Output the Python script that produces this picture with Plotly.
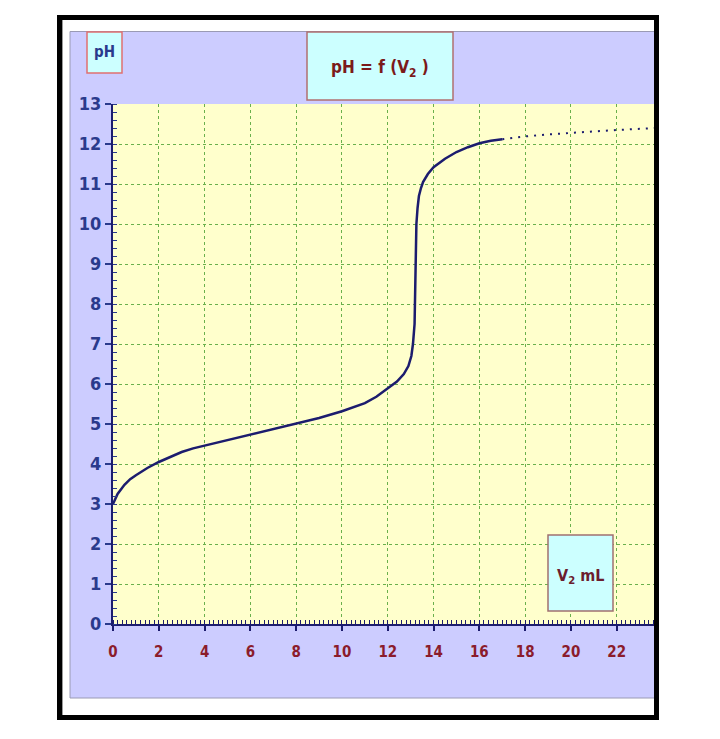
import plotly.graph_objects as go

# titration curve pH = f(V2)
v2 = [0, 0.2, 0.5, 0.75, 1, 1.5, 2, 2.5, 3, 3.5, 4, 5, 6, 7, 8, 9, 10, 11,
      11.5, 12, 12.4, 12.7, 12.9, 13.03, 13.1, 13.17, 13.22, 13.25, 13.3,
      13.36, 13.45, 13.54, 13.75, 14, 14.5, 15, 15.5, 16, 16.5, 17]
ph = [3.0, 3.25, 3.48, 3.62, 3.72, 3.9, 4.05, 4.18, 4.3, 4.39, 4.46, 4.6,
      4.73, 4.87, 5.01, 5.15, 5.32, 5.52, 5.68, 5.88, 6.06, 6.25, 6.45, 6.7,
      7.0, 7.5, 9.0, 10.0, 10.4, 10.7, 10.9, 11.05, 11.25, 11.42, 11.63, 11.8,
      11.92, 12.02, 12.08, 12.12]

# sparse dotted tail
v2_tail = [17, 18, 19, 20, 21, 22, 23, 23.7]
ph_tail = [12.12, 12.19, 12.24, 12.28, 12.32, 12.35, 12.38, 12.4]

x_ticks = [0, 2, 4, 6, 8, 10, 12, 14, 16, 18, 20, 22]
y_ticks = list(range(0, 14))

FONT = "DejaVu Sans Condensed, Liberation Sans Narrow, sans-serif"
NAVY = "#2a3a8c"
MAROON = "#8b1c2c"
CURVE = "#1c1c6e"
LAVENDER = "#ccccff"
YELLOW = "#ffffcc"
CYAN = "#ccffff"
GRID = "#6ab04c"

# plot area in pixels
L, R, T, B = 113, 655, 104, 624
W, H = 720, 739


def px(x):
    return (x - L) / (R - L)


def py(y):
    return (B - y) / (B - T)


def rect(x0, y0, x1, y1, **kw):
    return dict(type="rect", xref="paper", yref="paper",
                x0=px(x0), x1=px(x1), y0=py(y1), y1=py(y0), **kw)


def label(text, x, y, size, color):
    return dict(text=text, x=px(x), y=py(y), xref="paper", yref="paper",
                xanchor="center", yanchor="middle", showarrow=False,
                font=dict(family=FONT, size=size, color=color, weight="bold"))


fig = go.Figure()
fig.add_trace(go.Scatter(x=v2, y=ph, mode="lines",
                         line=dict(color=CURVE, width=2.5), hoverinfo="skip"))
fig.add_trace(go.Scatter(x=v2_tail, y=ph_tail, mode="lines",
                         line=dict(color=CURVE, width=2, dash="2px,6px"),
                         hoverinfo="skip"))

shapes = [
    # lavender panel and yellow plot area (both under the grid)
    rect(70, 31.5, 655, 698, fillcolor=LAVENDER,
         line=dict(color="#9a9ab4", width=1), layer="below"),
    rect(L, T, R, B, fillcolor=YELLOW, line=dict(width=0), layer="below"),
    # outer black frame
    rect(59.5, 17.5, 656.5, 717.5, line=dict(color="black", width=5),
         layer="above"),
    dict(type="line", xref="paper", yref="paper", x0=px(62.5), x1=px(62.5),
         y0=py(20), y1=py(715), line=dict(color="#999999", width=1)),
    # label boxes
    rect(307, 32, 453, 100, fillcolor=CYAN, line=dict(color="#b07070", width=1.5)),
    rect(87, 32, 122, 73, fillcolor=CYAN, line=dict(color="#e07070", width=1.5)),
    rect(548, 535, 613, 611, fillcolor=CYAN, line=dict(color="#a07070", width=1.5)),
]

annotations = [
    label("pH = f (V<sub>2</sub> )", 380, 68, 17, "#7b1a1a"),
    label("pH", 104.5, 52, 15, NAVY),
    label("V<sub>2</sub> mL", 580, 576, 16, "#6b1d2e"),
]

fig.update_layout(
    width=W, height=H,
    margin=dict(l=L, r=W - R, t=T, b=H - B, pad=0),
    paper_bgcolor="white",
    plot_bgcolor=YELLOW,
    showlegend=False,
    shapes=shapes,
    annotations=annotations,
)

fig.update_xaxes(
    range=[0, 23.67], tickvals=x_ticks, showline=True, linecolor=CURVE,
    linewidth=2, ticks="outside", ticklen=5, tickcolor=CURVE, tickwidth=1.5,
    ticklabelstandoff=8, zeroline=False,
    tickfont=dict(family=FONT, size=15, color=MAROON, weight="bold"),
    showgrid=True, gridcolor=GRID, gridwidth=1.3, griddash="dot",
    minor=dict(ticks="inside", dtick=0.2, ticklen=4, tickcolor=CURVE,
               tickwidth=1, showgrid=False),
)
fig.update_yaxes(
    range=[0, 13], tickvals=y_ticks, showline=True, linecolor=CURVE,
    linewidth=2, ticks="outside", ticklen=6, tickcolor=NAVY, tickwidth=1.5,
    zeroline=False,
    tickfont=dict(family=FONT, size=18, color=NAVY, weight="bold"),
    showgrid=True, gridcolor=GRID, gridwidth=1.3, griddash="dot",
    minor=dict(ticks="inside", dtick=0.2, ticklen=4, tickcolor=NAVY,
               tickwidth=1, showgrid=False),
)

# drop the default page margin so the figure sits at the window origin
fig.write_html("out.html", config={"displayModeBar": False},
               post_script="document.body.style.margin='0';")
